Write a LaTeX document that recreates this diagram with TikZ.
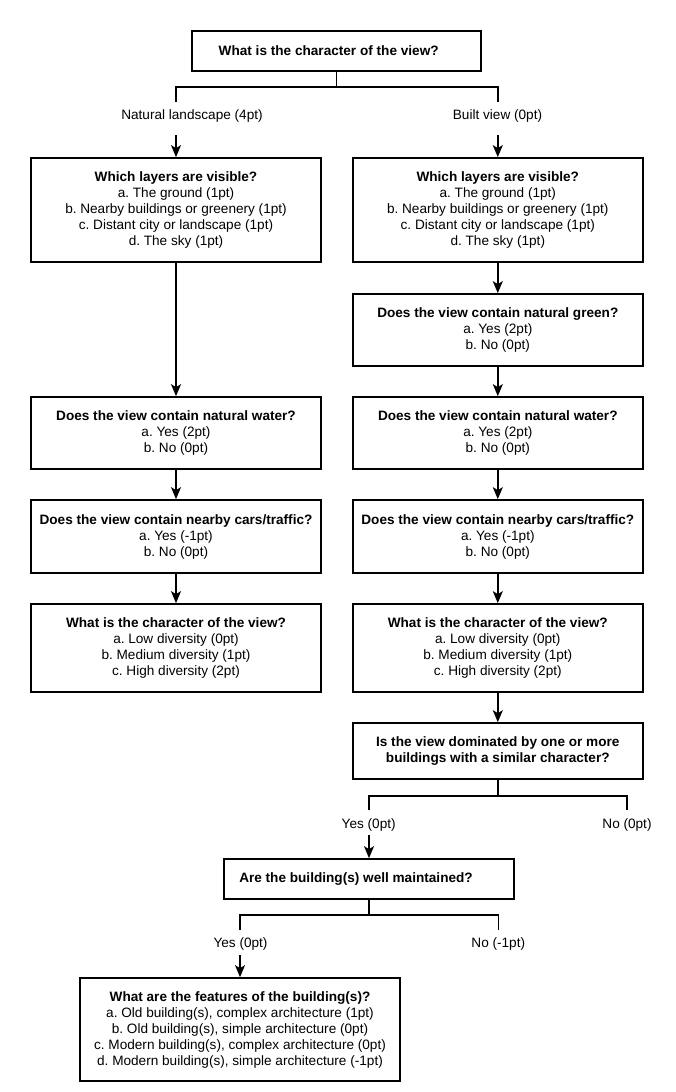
\documentclass[tikz,border=0pt]{standalone}
\usepackage{fontspec}
\setmainfont{Liberation Sans}
\usetikzlibrary{arrows.meta}
\frenchspacing
\begin{document}
\begin{tikzpicture}[x=1pt,y=-1pt,
  qbox/.style={draw, line width=1.7pt, align=center, inner sep=0pt, font=\fontsize{13.6}{16}\selectfont},
  lab/.style={inner sep=0pt, font=\fontsize{13.6}{16}\selectfont},
  conn/.style={line width=1.6pt},
  arr/.style={line width=1.6pt, -{Stealth[length=12pt,width=10pt,inset=3pt]}}]
\useasboundingbox (0,0) rectangle (676,1092);

% boxes
\node[qbox, minimum width=289pt, minimum height=40pt] (top) at (336.5,51)
  {\hspace*{-15.6pt}\textbf{What is the character of the view?}};
\node[qbox, minimum width=289.5pt, minimum height=104pt] (L1) at (176,210)
  {\textbf{Which layers are visible?}\\a. The ground (1pt)\\b. Nearby buildings or greenery (1pt)\\c. Distant city or landscape (1pt)\\d. The sky (1pt)};
\node[qbox, minimum width=290pt, minimum height=104pt] (R1) at (497.8,210)
  {\textbf{Which layers are visible?}\\a. The ground (1pt)\\b. Nearby buildings or greenery (1pt)\\c. Distant city or landscape (1pt)\\d. The sky (1pt)};
\node[qbox, minimum width=290pt, minimum height=72pt] (Rgreen) at (497.8,330)
  {\textbf{Does the view contain natural green?}\\a. Yes (2pt)\\b. No (0pt)};
\node[qbox, minimum width=289.5pt, minimum height=72pt] (Lwater) at (176,433)
  {\textbf{Does the view contain natural water?}\\a. Yes (2pt)\\b. No (0pt)};
\node[qbox, minimum width=290pt, minimum height=72pt] (Rwater) at (497.8,433)
  {\textbf{Does the view contain natural water?}\\a. Yes (2pt)\\b. No (0pt)};
\node[qbox, minimum width=289.5pt, minimum height=73pt] (Lcars) at (176,536.5)
  {\textbf{Does the view contain nearby cars/traffic?}\\a. Yes (-1pt)\\b. No (0pt)};
\node[qbox, minimum width=290pt, minimum height=73pt] (Rcars) at (497.8,536.5)
  {\textbf{Does the view contain nearby cars/traffic?}\\a. Yes (-1pt)\\b. No (0pt)};
\node[qbox, minimum width=289.5pt, minimum height=88pt] (Lchar) at (176,648)
  {\textbf{What is the character of the view?}\\a. Low diversity (0pt)\\b. Medium diversity (1pt)\\c. High diversity (2pt)};
\node[qbox, minimum width=290pt, minimum height=88pt] (Rchar) at (497.8,648)
  {\textbf{What is the character of the view?}\\a. Low diversity (0pt)\\b. Medium diversity (1pt)\\c. High diversity (2pt)};
\node[qbox, minimum width=290pt, minimum height=56pt] (dom) at (497.8,751)
  {\textbf{Is the view dominated by one or more}\\\textbf{buildings with a similar character?}};
\node[qbox, minimum width=289.5pt, minimum height=40pt] (maint) at (369,879)
  {\hspace*{-26pt}\textbf{Are the building(s) well maintained?}};
\node[qbox, minimum width=320pt, minimum height=103pt] (feat) at (240,1029.5)
  {\textbf{What are the features of the building(s)?}\\a. Old building(s), complex architecture (1pt)\\b. Old building(s), simple architecture (0pt)\\c. Modern building(s), complex architecture (0pt)\\d. Modern building(s), simple architecture (-1pt)};

% labels
\node[lab] (natlab) at (192,116) {Natural landscape (4pt)};
\node[lab] (builtlab) at (497.5,116) {Built view (0pt)};
\node[lab] (yes1) at (368.7,825) {Yes (0pt)};
\node[lab] (no1) at (627,825) {No (0pt)};
\node[lab] (yes2) at (240.5,944) {Yes (0pt)};
\node[lab] (no2) at (498.3,944) {No (-1pt)};

% first split
\coordinate (j1) at (336.5,87);
\coordinate (bL) at (176,102);
\coordinate (bR) at (497.8,102);
\coordinate (aL) at (176,135);
\coordinate (aR) at (497.8,135);
\draw[conn] (top.south) -- (j1);
\draw[conn] (bL) |- (j1) -| (bR);
\draw[arr] (aL) -- (L1.north);
\draw[arr] (aR) -- (R1.north);

% left column
\draw[arr] (L1.south) -- (Lwater.north);
\draw[arr] (Lwater.south) -- (Lcars.north);
\draw[arr] (Lcars.south) -- (Lchar.north);

% right column
\draw[arr] (R1.south) -- (Rgreen.north);
\draw[arr] (Rgreen.south) -- (Rwater.north);
\draw[arr] (Rwater.south) -- (Rcars.north);
\draw[arr] (Rcars.south) -- (Rchar.north);
\draw[arr] (Rchar.south) -- (dom.north);

% dominated split
\coordinate (j2) at (497.8,796);
\coordinate (bY1) at (369,810);
\coordinate (bN1) at (627,810);
\coordinate (aY1) at (369,835);
\draw[conn] (dom.south) -- (j2);
\draw[conn] (bY1) |- (j2) -| (bN1);
\draw[arr] (aY1) -- (maint.north);

% maintained split
\coordinate (j3) at (369,915);
\coordinate (bY2) at (240,930);
\coordinate (bN2) at (498.3,930);
\coordinate (aY2) at (240,955);
\draw[conn] (maint.south) -- (j3);
\draw[conn] (bY2) |- (j3) -| (bN2);
\draw[arr] (aY2) -- (feat.north);
\end{tikzpicture}
\end{document}
